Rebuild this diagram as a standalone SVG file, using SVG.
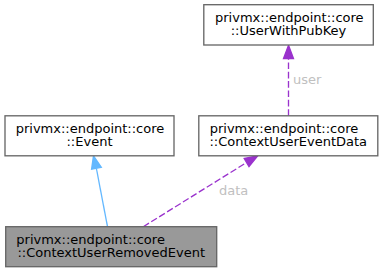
<svg xmlns="http://www.w3.org/2000/svg" width="383" height="272" viewBox="0 0 383 272">
<style>
  .box { fill: #ffffff; stroke: #666666; stroke-width: 1.33; }
  .root { fill: #999999; stroke: #666666; stroke-width: 1.33; }
  text { font-family: "DejaVu Sans", sans-serif; font-size: 13px; fill: #000000; }
  .lbl { fill: #c0c0c0; }
  .mid { text-anchor: middle; }
  .dash { fill: none; stroke: #9a32cd; stroke-width: 1.33; stroke-dasharray: 6.67,2.67; }
  .inh { fill: none; stroke: #63b8ff; stroke-width: 1.33; }
</style>
<rect width="383" height="272" fill="#ffffff"/>
<g id="edges">
  <path class="inh" d="M107.5,226.7 L96.4,168.5"/>
  <polygon points="93.5,155.8 101.3,167.3 91.6,169.2" fill="#63b8ff" stroke="#63b8ff" stroke-width="1.33"/>
  <path class="dash" d="M143.3,226.7 L246.6,162.5"/>
  <polygon points="257.7,155.8 249.0,166.5 244.2,158.5" fill="#9a32cd" stroke="#9a32cd" stroke-width="1.33"/>
  <text class="lbl" x="219" y="194.5">data</text>
  <path class="dash" d="M288.5,115.8 L288.5,58.5"/>
  <polygon points="288.5,45.3 293.5,58.5 283.5,58.5" fill="#9a32cd" stroke="#9a32cd" stroke-width="1.33"/>
  <text class="lbl" x="293" y="84.3">user</text>
</g>
<g id="node-root">
  <rect class="root" x="5.7" y="226.7" width="211" height="40"/>
  <text x="16.3" y="243.5">privmx::endpoint::core</text>
  <text class="mid" x="111.2" y="257">::ContextUserRemovedEvent</text>
</g>
<g id="node-event">
  <rect class="box" x="5" y="115.8" width="169" height="40"/>
  <text x="15.7" y="132.6">privmx::endpoint::core</text>
  <text class="mid" x="89.5" y="146.1">::Event</text>
</g>
<g id="node-cued">
  <rect class="box" x="198.8" y="115.8" width="179" height="40"/>
  <text x="209.7" y="132.6">privmx::endpoint::core</text>
  <text class="mid" x="288.3" y="146.1">::ContextUserEventData</text>
</g>
<g id="node-uwpk">
  <rect class="box" x="203.8" y="4.7" width="169.5" height="40.3"/>
  <text x="215" y="21.5">privmx::endpoint::core</text>
  <text class="mid" x="288.5" y="35">::UserWithPubKey</text>
</g>
</svg>
